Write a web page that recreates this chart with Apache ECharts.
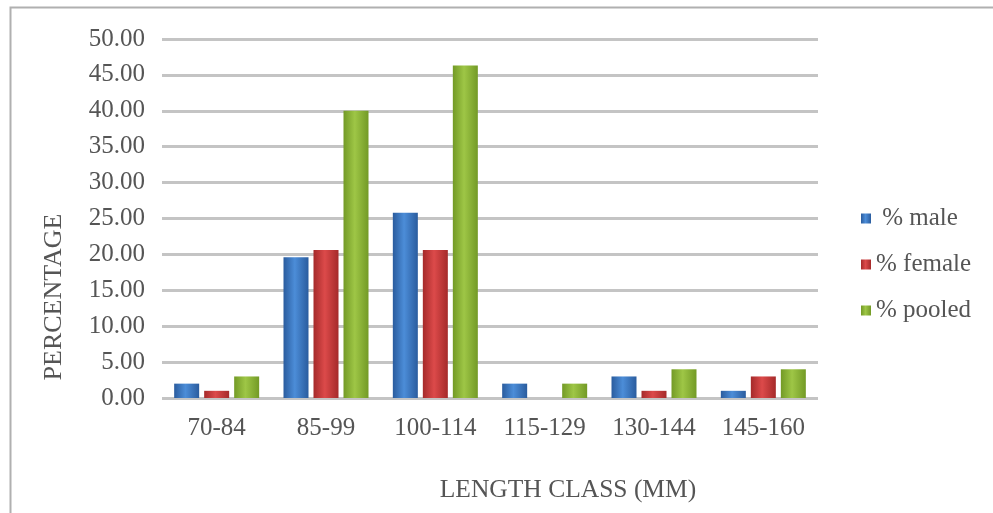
<!DOCTYPE html>
<html>
<head>
<meta charset="utf-8">
<script src="https://cdn.jsdelivr.net/npm/echarts@6/dist/echarts.min.js"></script>
<style>
html,body{margin:0;padding:0;background:#fff;}
#chart{width:993px;height:513px;}
</style>
</head>
<body>
<div id="chart"></div>
<script>
const categories = ['70-84', '85-99', '100-114', '115-129', '130-144', '145-160'];
const maleValues = [2.0, 19.6, 25.8, 2.0, 3.0, 1.0];
const femaleValues = [1.0, 20.6, 20.6, 0.0, 1.0, 3.0];
const pooledValues = [3.0, 40.0, 46.3, 2.0, 4.0, 4.0];
const seriesNames = [' % male', '% female', '% pooled'];
const yTicks = { min: 0, max: 50, interval: 5 };

const FONT = '"Liberation Serif", "Times New Roman", serif';
const TXT = '#555555';
const FS = 25;

function grad(edge, mid) {
  return new echarts.graphic.LinearGradient(0, 0, 1, 0, [
    { offset: 0, color: edge },
    { offset: 0.45, color: mid },
    { offset: 1, color: edge }
  ]);
}

const chart = echarts.init(document.getElementById('chart'));
chart.setOption({
  animation: false,
  backgroundColor: '#fff',
  textStyle: { fontFamily: FONT },
  grid: { left: 162, right: 175, top: 39, bottom: 115, containLabel: false },
  legend: {
    orient: 'vertical',
    left: 856,
    top: 201,
    itemWidth: 10,
    itemHeight: 10,
    itemGap: 21,
    icon: 'rect',
    textStyle: { fontFamily: FONT, fontSize: FS, color: TXT },
    data: seriesNames
  },
  xAxis: {
    type: 'category',
    data: categories,
    axisLine: { show: false },
    axisTick: { show: false },
    axisLabel: { fontFamily: FONT, fontSize: FS, color: TXT, margin: 18 }
  },
  yAxis: {
    type: 'value',
    min: yTicks.min,
    max: yTicks.max,
    interval: yTicks.interval,
    axisLine: { show: false },
    axisTick: { show: false },
    axisLabel: {
      fontFamily: FONT, fontSize: FS, color: TXT, margin: 17,
      formatter: v => v.toFixed(2)
    },
    splitLine: { lineStyle: { color: '#c4c4c4', width: 3 } }
  },
  graphic: [
    {
      type: 'rect', left: 8, top: 5, z: -1,
      shape: { width: 1200, height: 1000 },
      style: { fill: 'none', stroke: '#b0b0b0', lineWidth: 2 }
    },
    {
      type: 'text', x: 54, y: 297, rotation: Math.PI / 2,
      style: { text: 'PERCENTAGE', font: '26px ' + FONT, fill: TXT, align: 'center', verticalAlign: 'middle' }
    },
    {
      type: 'text', x: 568, y: 490,
      style: { text: 'LENGTH CLASS (MM)', font: '25.5px ' + FONT, fill: TXT, align: 'center', verticalAlign: 'middle' }
    }
  ],
  series: [
    {
      name: seriesNames[0], type: 'bar', data: maleValues,
      barWidth: 25, barGap: '20%',
      itemStyle: { color: grad('#2a5c9e', '#4c8dd8') }
    },
    {
      name: seriesNames[1], type: 'bar', data: femaleValues,
      barWidth: 25, barGap: '20%',
      itemStyle: { color: grad('#a52a2a', '#dc4a4a') }
    },
    {
      name: seriesNames[2], type: 'bar', data: pooledValues,
      barWidth: 25, barGap: '20%',
      itemStyle: { color: grad('#739a26', '#9ec646') }
    }
  ]
});
</script>
</body>
</html>
